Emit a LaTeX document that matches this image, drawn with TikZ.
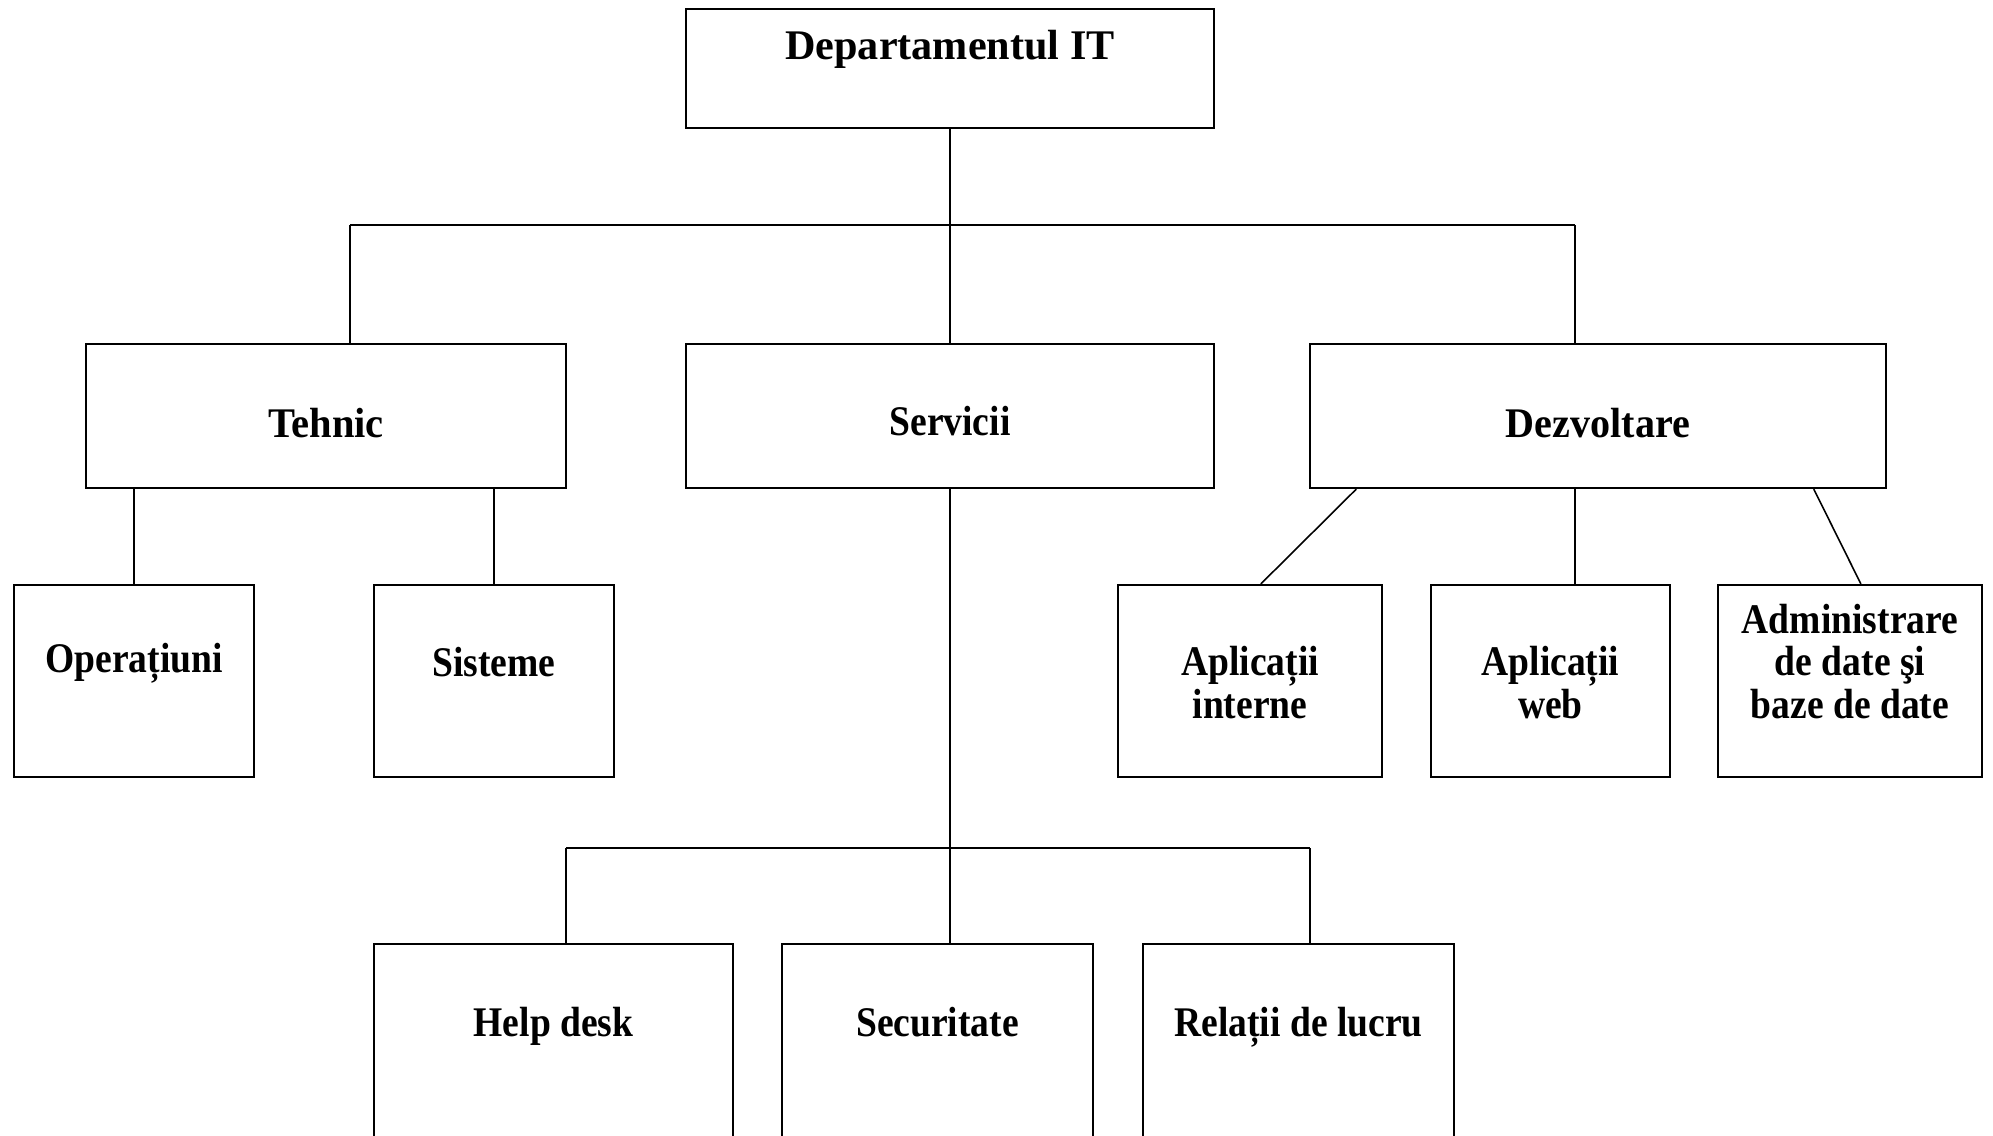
\documentclass[tikz,border=0pt]{standalone}
\usepackage{fontspec}
\setmainfont{Liberation Serif}
\usepackage{tikz}
\usetikzlibrary{positioning, calc}

\begin{document}
\begin{tikzpicture}[x=0.01cm, y=-0.01cm,
  n/.style={draw, line width=0.6pt, inner sep=0pt, align=center, font=\fontsize{12}{12}\selectfont\bfseries\addfontfeatures{FakeStretch=#1}},
  n/.default=0.89,
  link/.style={line width=0.45pt}
]
  \useasboundingbox (0,0) rectangle (1993,1135);
  \clip (0,0) rectangle (1993,1135);

  % top level
  \node[n=1, minimum width=5.28cm, text height=0.50cm, text depth=0.69cm] (it) at (950,68.5) {Departamentul IT};

  % second level
  \node[n=0.96, minimum width=4.80cm, text height=0.93cm, text depth=0.51cm] (teh) at (326,416) {Tehnic};
  \node[n, minimum width=5.28cm, text height=0.91cm, text depth=0.53cm] (srv) at (950,416) {Servicii};
  \node[n=0.95, minimum width=5.76cm, text height=0.93cm, text depth=0.51cm] (dez) at (1598,416) {Dezvoltare};

  % third level
  \node[n, minimum width=2.40cm, text height=0.87cm, text depth=1.05cm] (op) at (134,681) {Operațiuni};
  \node[n, minimum width=2.40cm, text height=0.91cm, text depth=1.01cm] (sis) at (494,681) {Sisteme};
  \node[n, minimum width=2.64cm, text height=1.33cm, text depth=0.59cm] (ai) at (1250,681) {Aplicații\\interne};
  \node[n, minimum width=2.39cm, text height=1.33cm, text depth=0.59cm] (aw) at (1550.5,681) {Aplicații\\web};
  \node[n, minimum width=2.64cm, text height=1.33cm, text depth=0.59cm] (adm) at (1850,681) {Administrare\\de date şi\\baze de date};

  % bottom level
  \node[n, minimum width=3.59cm, text height=0.92cm, text depth=1.58cm] (hd) at (553.5,1069) {Help desk};
  \node[n, minimum width=3.11cm, text height=0.92cm, text depth=1.58cm] (sec) at (937.5,1069) {Securitate};
  \node[n, minimum width=3.11cm, text height=0.92cm, text depth=1.58cm] (rel) at (1298.5,1069) {Relații de lucru};

  \coordinate (barl) at (350,225);
  \coordinate (barr) at (1575,225);
  \coordinate (lowl) at (566,848);
  \coordinate (lowr) at (1310,848);

  \draw[link] (it.south) -- (srv.north);
  \draw[link] (barl) -- (barr);
  \draw[link] (barl) -- (barl |- teh.north);
  \draw[link] (barr) -- (barr |- dez.north);

  \draw[link] (op.north |- teh.south) -- (op.north);
  \draw[link] (sis.north |- teh.south) -- (sis.north);

  \draw[link] ($(dez.south west)+(47.5,0)$) -- ($(ai.north west)+(144,0)$);
  \draw[link] (barr |- dez.south) -- (barr |- aw.north);
  \draw[link] ($(dez.south west)+(505,0)$) -- ($(adm.north west)+(144,0)$);

  \draw[link] (srv.south) -- (sec.north -| srv.south);
  \draw[link] (lowl) -- (lowr);
  \draw[link] (lowl) -- (lowl |- hd.north);
  \draw[link] (lowr) -- (lowr |- rel.north);
\end{tikzpicture}
\end{document}
